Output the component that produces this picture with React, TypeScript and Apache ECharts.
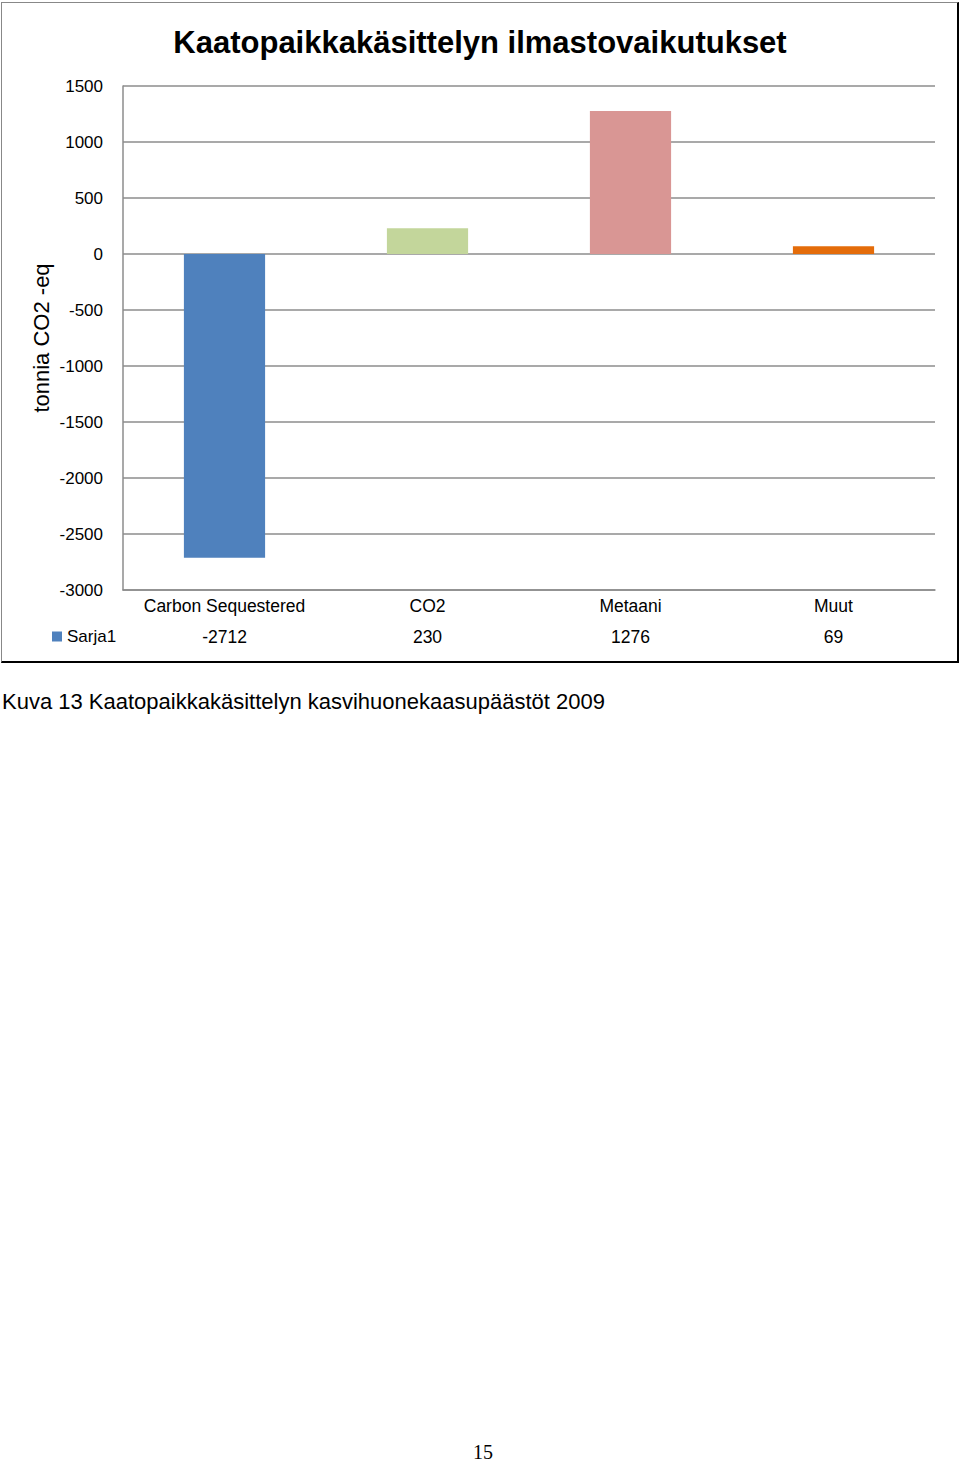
import React, { useEffect, useRef } from "react";
import * as echarts from "echarts";

const categories = ["Carbon Sequestered", "CO2", "Metaani", "Muut"];
const values = [-2712, 230, 1276, 69];
const barColors = ["#4F81BD", "#C3D69B", "#D99694", "#E46C0A"];
const seriesName = "Sarja1";
const yTicks = { min: -3000, max: 1500, interval: 500 };
const titleText = "Kaatopaikkakäsittelyn ilmastovaikutukset";
const yAxisName = "tonnia CO2 -eq";
const captionText = "Kuva 13 Kaatopaikkakäsittelyn kasvihuonekaasupäästöt 2009";
const pageNumber = "15";

const FONT = "'Liberation Sans', Arial, Helvetica, sans-serif";

export default function App() {
  const ref = useRef<HTMLDivElement>(null);

  useEffect(() => {
    if (!ref.current) return;
    const chart = echarts.init(ref.current, null, { renderer: "svg" });
    chart.setOption({
      animation: false,
      backgroundColor: "transparent",
      title: {
        text: titleText,
        left: "center",
        top: 22,
        textStyle: { fontFamily: FONT, fontSize: 31, fontWeight: "bold", color: "#000" },
      },
      legend: {
        data: [seriesName],
        left: 47,
        top: 623,
        icon: "rect",
        itemWidth: 10,
        itemHeight: 10,
        itemGap: 5,
        textStyle: { fontFamily: FONT, fontSize: 17, color: "#000", padding: [0, 0, 0, 0] },
      },
      grid: { left: 123, right: 25, top: 86, bottom: 75, containLabel: false },
      xAxis: [
        {
          type: "category",
          data: categories,
          position: "bottom",
          axisLine: { show: true, onZero: false, lineStyle: { color: "#8c8c8c", width: 1.5 } },
          axisTick: { show: false },
          axisLabel: { fontFamily: FONT, fontSize: 17.5, color: "#000", margin: 7, interval: 0 },
        },
        {
          type: "category",
          data: values.map((v) => String(v)),
          position: "bottom",
          axisLine: { show: false },
          axisTick: { show: false },
          splitLine: { show: false },
          axisLabel: { fontFamily: FONT, fontSize: 17.5, color: "#000", margin: 38, interval: 0 },
        },
      ],
      yAxis: {
        type: "value",
        min: yTicks.min,
        max: yTicks.max,
        interval: yTicks.interval,
        name: yAxisName,
        nameLocation: "middle",
        nameRotate: 90,
        nameGap: 71,
        nameMoveOverlap: false,
        nameTextStyle: { fontFamily: FONT, fontSize: 22, color: "#000" },
        axisLine: { show: true, lineStyle: { color: "#8c8c8c", width: 1.5 } },
        axisTick: { show: false },
        axisLabel: {
          fontFamily: FONT,
          fontSize: 17,
          color: "#000",
          margin: 20,
          formatter: (v: number) => String(v),
        },
        splitLine: { show: true, lineStyle: { color: "#8c8c8c", width: 1.5 } },
      },
      series: [
        {
          name: seriesName,
          type: "bar",
          xAxisIndex: 0,
          barWidth: "40%",
          itemStyle: { color: barColors[0] },
          data: values.map((v, i) => ({ value: v, itemStyle: { color: barColors[i] } })),
        },
      ],
    });
    return () => chart.dispose();
  }, []);

  return (
    <div
      style={{
        position: "absolute",
        left: 0,
        top: 0,
        width: 960,
        height: 1462,
        background: "#fff",
        overflow: "hidden",
      }}
    >
      <div
        style={{
          position: "absolute",
          left: 1,
          top: 2,
          width: 955,
          height: 658,
          borderTop: "1px solid #888",
          borderLeft: "1px solid #888",
          borderRight: "2px solid #000",
          borderBottom: "2px solid #000",
        }}
      />
      <div ref={ref} style={{ position: "absolute", left: 0, top: 0, width: 960, height: 665 }} />
      <div
        style={{
          position: "absolute",
          left: 2,
          top: 689,
          fontFamily: FONT,
          fontSize: 22,
          color: "#000",
          whiteSpace: "nowrap",
        }}
      >
        {captionText}
      </div>
      <div
        style={{
          position: "absolute",
          left: 0,
          width: 966,
          top: 1441,
          textAlign: "center",
          fontFamily: "'Liberation Serif', 'DejaVu Serif', serif",
          fontSize: 20,
          color: "#000",
        }}
      >
        {pageNumber}
      </div>
    </div>
  );
}
